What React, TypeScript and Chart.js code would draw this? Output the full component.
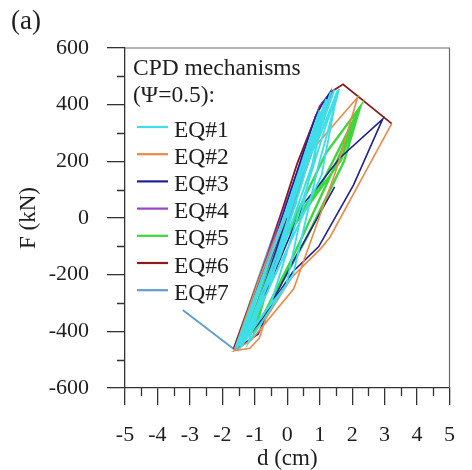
import React, { useEffect, useRef } from 'react';
import { Chart, registerables } from 'chart.js';

Chart.register(...registerables);

// ---- data ----
const seriesLabels = ['EQ#1', 'EQ#2', 'EQ#3', 'EQ#4', 'EQ#5', 'EQ#6', 'EQ#7'];
const seriesColors = ['#3fdde8', '#ec8a45', '#1f1f96', '#9a42c8', '#3ad83a', '#8a1c1c', '#5f9ecf'];
const seriesWidths = [1.9, 1.6, 1.6, 1.6, 2.4, 1.8, 1.9];

const xMajorTicks = [-5, -4, -3, -2, -1, 0, 1, 2, 3, 4, 5];
const xMinorTicks = [-4.5, -3.5, -2.5, -1.5, -0.5, 0.5, 1.5, 2.5, 3.5, 4.5];
const yMajorTicks = [-600, -400, -200, 0, 200, 400, 600];
const yMinorTicks = [-500, -300, -100, 100, 300, 500];

const legendTitle = ['CPD mechanisms', '(\u03A8=0.5):'];
const panelLabel = '(a)';
const xTitle = 'd (cm)';
const yTitle = 'F (kN)';

// [d (cm), F (kN)]
const eq1: [number, number][] = [
  [0, 0], [0.8, 270], [-1.6, -460], [1.45, 452], [0.6, 180], [-0.4, -180], [-1.3, -430],
  [1.06, 152], [1.55, 450], [0.9, 260], [-0.03, -236], [-1.5, -450], [1.2, 420],
  [0.82, 205], [-0.22, -136], [-1.45, -455], [1.0, 380], [0.5, 140], [-0.6, -260],
  [-1.55, -458], [1.35, 445], [0.7, 240], [-1.2, -440], [0.18, -200], [0.95, 180],
  [1.6, 455], [1.2, 330], [-0.5, -300], [-1.4, -450], [0.3, 60],
];
const eq2: [number, number][] = [
  [0, 0], [0.4, 130], [-1.62, -462], [-0.9, -226], [0.67, 228], [2.17, 426], [1.51, 170],
  [0.2, -250], [-1.1, -430], [-1.62, -468], [-1.15, -460], [-0.86, -424], [-0.66, -354],
  [-0.56, -336], [0.15, -208], [1.03, -108], [1.32, -67], [3.22, 333],
];
const eq3: [number, number][] = [
  [0, 0], [0.5, 170], [-0.3, -80], [-1.62, -458], [-0.55, -136], [0.47, 222], [0.87, 358],
  [1.07, 400], [1.3, 440], [0.8, 280], [-1.2, -410], [0.5, 50], [0.97, 116], [1.61, 211],
  [2.94, 349], [2.04, 116], [0.97, -101], [0.18, -189], [-0.41, -289], [-0.9, -410],
  [-1.55, -460], [-0.7, -348], [0.18, -154], [1.46, 110],
];
const eq4: [number, number][] = [
  [0, 0], [-1.6, -458], [0.2, 130], [0.87, 358], [1.07, 405], [1.41, 446], [1.1, 350],
  [-0.9, -330], [0.5, 200],
];
const eq5: [number, number][] = [
  [0, 0], [-1.3, -430], [-0.2, -100], [1.2, 230], [2.25, 393], [1.46, 181], [0.18, -136],
  [-0.9, -380], [-1.45, -445], [0.0, -60], [1.66, 205], [2.15, 370], [1.1, 130],
  [-0.2, -78], [-1.0, -400], [0.56, -78], [1.75, 200], [2.25, 393],
];
const eq6: [number, number][] = [
  [0, 0], [-0.9, -240], [-1.65, -462], [-0.6, -130], [0.3, 190], [1.0, 395], [1.35, 445],
  [1.72, 472], [3.22, 333],
];
const eq7: [number, number][] = [
  [-3.22, -325], [-1.65, -462], [-0.3, -20], [1.25, 430], [0.9, 300], [-1.35, -440],
  [0.7, 250], [0.3, 120], [-1.0, -380], [0.1, 20], [1.4, 440],
];
const seriesData = [eq1, eq2, eq3, eq4, eq5, eq6, eq7];

const SERIF = '"Liberation Serif", "DejaVu Serif", serif';
const TEXT = '#1e1e1e';
const AXIS = '#333333';

const decorPlugin = {
  id: 'decor',
  afterDraw(chart: any) {
    const { ctx, chartArea } = chart;
    const xs = chart.scales.x;
    const ys = chart.scales.y;
    ctx.save();
    // top & right frame
    ctx.strokeStyle = '#6a6a6a';
    ctx.lineWidth = 1.2;
    ctx.beginPath();
    ctx.moveTo(chartArea.left, chartArea.top);
    ctx.lineTo(chartArea.right, chartArea.top);
    ctx.lineTo(chartArea.right, chartArea.bottom);
    ctx.stroke();
    // minor ticks
    ctx.strokeStyle = AXIS;
    ctx.lineWidth = 1.3;
    ctx.beginPath();
    for (const v of xMinorTicks) {
      const p = Math.round(xs.getPixelForValue(v)) + 0.5;
      ctx.moveTo(p, chartArea.bottom);
      ctx.lineTo(p, chartArea.bottom + 8);
    }
    for (const v of yMinorTicks) {
      const p = Math.round(ys.getPixelForValue(v)) + 0.5;
      ctx.moveTo(chartArea.left, p);
      ctx.lineTo(chartArea.left - 8, p);
    }
    ctx.stroke();

    // panel label
    ctx.fillStyle = TEXT;
    ctx.font = `27px ${SERIF}`;
    ctx.textAlign = 'left';
    ctx.textBaseline = 'alphabetic';
    ctx.fillText(panelLabel, 11, 29);

    // legend
    ctx.font = `23.5px ${SERIF}`;
    ctx.fillText(legendTitle[0], 133, 75);
    ctx.fillText(legendTitle[1], 133, 102);
    chart.data.datasets.forEach((ds: any, i: number) => {
      const y = 127 + 27.2 * i;
      ctx.strokeStyle = ds.borderColor;
      ctx.lineWidth = 2.2;
      ctx.beginPath();
      ctx.moveTo(137, y);
      ctx.lineTo(168, y);
      ctx.stroke();
      ctx.fillStyle = TEXT;
      ctx.fillText(ds.label, 174, y + 9.5);
    });
    ctx.restore();
  },
};

export default function App() {
  const ref = useRef<HTMLCanvasElement | null>(null);
  useEffect(() => {
    if (!ref.current) return;
    const chart = new Chart(ref.current, {
      type: 'scatter',
      data: {
        datasets: seriesData.map((pts, i) => ({
          label: seriesLabels[i],
          data: pts.map(([x, y]) => ({ x, y })),
          showLine: true,
          borderColor: seriesColors[i],
          backgroundColor: seriesColors[i],
          borderWidth: seriesWidths[i],
          pointRadius: 0,
          fill: false,
          tension: 0,
        })),
      },
      options: {
        animation: false,
        responsive: false,
        maintainAspectRatio: false,
        layout: { padding: { top: 48, right: 9, left: 0, bottom: 0 } },
        plugins: { legend: { display: false }, tooltip: { enabled: false }, title: { display: false } },
        scales: {
          x: {
            type: 'linear',
            min: -5,
            max: 5,
            afterFit: (s: any) => { s.height = 82; },
            afterBuildTicks: (s: any) => { s.ticks = xMajorTicks.map((v) => ({ value: v })); },
            ticks: {
              autoSkip: false,
              maxRotation: 0,
              padding: 17,
              color: TEXT,
              font: { family: SERIF, size: 22 },
            },
            grid: { drawOnChartArea: false, drawTicks: true, tickLength: 17, color: AXIS, lineWidth: 1.3 },
            border: { display: true, color: AXIS, width: 1.3 },
            title: { display: true, text: xTitle, color: TEXT, font: { family: SERIF, size: 23, lineHeight: 1 }, padding: { top: 0, bottom: 0 } },
          },
          y: {
            type: 'linear',
            min: -600,
            max: 600,
            afterFit: (s: any) => { s.width = 125; },
            afterBuildTicks: (s: any) => { s.ticks = yMajorTicks.map((v) => ({ value: v })); },
            ticks: {
              autoSkip: false,
              padding: 18,
              color: TEXT,
              font: { family: SERIF, size: 22 },
            },
            grid: { drawOnChartArea: false, drawTicks: true, tickLength: 18, color: AXIS, lineWidth: 1.3 },
            border: { display: true, color: AXIS, width: 1.3 },
            title: { display: true, text: yTitle, color: TEXT, font: { family: SERIF, size: 23 }, padding: { top: 15, bottom: 0 } },
          },
        },
      },
      plugins: [decorPlugin],
    });
    return () => chart.destroy();
  }, []);
  return (
    <div style={{ position: 'fixed', left: 0, top: 0, width: 472, height: 470, background: '#fff' }}>
      <canvas ref={ref} width={472} height={470} />
    </div>
  );
}
